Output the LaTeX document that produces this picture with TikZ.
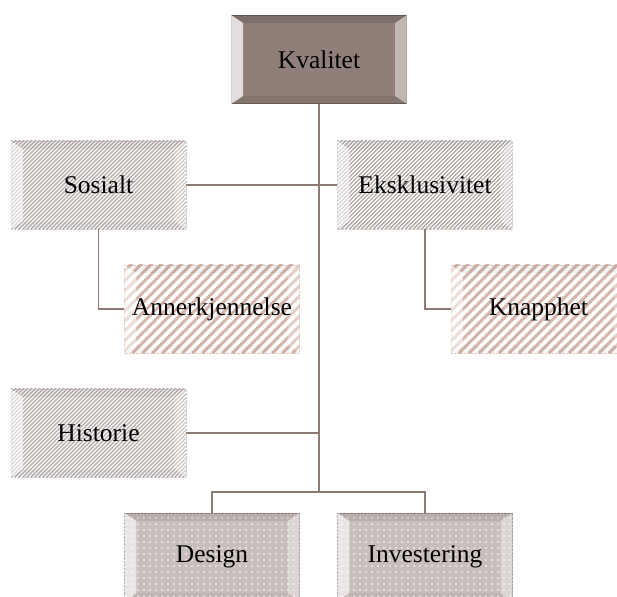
\documentclass[tikz,border=0pt]{standalone}
\usepackage{fontspec}
\setmainfont{Liberation Serif}
\usetikzlibrary{patterns.meta}
\definecolor{linec}{RGB}{140,122,116}
\definecolor{kval}{RGB}{143,127,120}
\definecolor{kvalb}{RGB}{110,96,90}
\definecolor{hatch}{RGB}{180,170,167}
\definecolor{stripe}{RGB}{212,182,172}
\definecolor{dotbg}{RGB}{200,190,188}
\tikzset{
  box/.style={minimum width=175pt,minimum height=88pt,inner sep=0pt,font=\fontsize{25.5}{30}\selectfont},
  conn/.style={draw=linec,line width=1.5pt},
}
\newcommand\hatchbox[4]{%
  \begin{scope}
    \clip (#1.north west) rectangle (#1.south east);
    \foreach \i in {-92,#2,...,180}{\draw[#4,line width=#3] ([xshift=\i]#1.south west) -- ++(100,-100);}
  \end{scope}}
\begin{document}
\begin{tikzpicture}[x=1pt,y=-1pt]
\useasboundingbox (0,0) rectangle (617,596);
\clip (0,0) rectangle (617,596);
% box backgrounds
\node[box,fill=kval,draw=kvalb,line width=1pt] (kv) at (319,59.5) {};
\node[box,draw=hatch!60,densely dotted] (so) at (98.5,185) {};
\node[box,draw=hatch!60,densely dotted] (ek) at (425,185) {};
\node[box,draw=hatch!60,densely dotted] (hi) at (98.5,433) {};
\node[box,draw=stripe!70,densely dotted] (an) at (212,309) {};
\node[box,draw=stripe!70,densely dotted] (kn) at (538.5,309) {};
\node[box,fill=dotbg,draw=dotbg!70!black,densely dotted] (de) at (212,557) {};
\node[box,fill=dotbg,draw=dotbg!70!black,densely dotted] (in) at (425,557) {};
\foreach \n in {so,ek,hi}{\hatchbox{\n}{-88}{1.1pt}{hatch}}
\foreach \n in {an,kn}{\hatchbox{\n}{-82}{3pt}{stripe}}
\foreach \n in {de,in}{
  \path[pattern={Dots[distance=6pt,radius=0.8pt]},pattern color=white] (\n.north west) rectangle (\n.south east);
}
% bevels
\foreach \n/\o/\d in {kv/0.75/0.12,so/0.55/0.05,ek/0.55/0.05,hi/0.55/0.05,an/0.55/0.05,kn/0.55/0.05,de/0.6/0.08,in/0.6/0.08}{
  \fill[white,opacity=\o] (\n.north west) -- ([shift={(12,8)}]\n.north west) -- ([shift={(12,-8)}]\n.south west) -- (\n.south west) -- cycle;
  \fill[white,opacity=\o*0.6] (\n.north east) -- ([shift={(-12,8)}]\n.north east) -- ([shift={(-12,-8)}]\n.south east) -- (\n.south east) -- cycle;
  \fill[black,opacity=\d] (\n.north west) -- ([shift={(12,8)}]\n.north west) -- ([shift={(-12,8)}]\n.north east) -- (\n.north east) -- cycle;
  \fill[black,opacity=\d*0.6] (\n.south west) -- ([shift={(12,-8)}]\n.south west) -- ([shift={(-12,-8)}]\n.south east) -- (\n.south east) -- cycle;
}
% connectors
\coordinate (trunkend) at (319,492);
\coordinate (histj) at (319,433);
\draw[conn] (kv.south) -- (trunkend);
\draw[conn] (so.east) -- (ek.west);
\draw[conn] (hi.east) -- (histj);
\draw[conn] (de.north) |- (trunkend) -| (in.north);
\draw[conn] (so.south) |- (an.west);
\draw[conn] (ek.south) |- (kn.west);
% labels
\node[box] at (kv) {Kvalitet};
\node[box] at (so) {Sosialt};
\node[box] at (ek) {Eksklusivitet};
\node[box] at (hi) {Historie};
\node[box] at (an) {Annerkjennelse};
\node[box] at (kn) {Knapphet};
\node[box] at (de) {Design};
\node[box] at (in) {Investering};
\end{tikzpicture}
\end{document}
